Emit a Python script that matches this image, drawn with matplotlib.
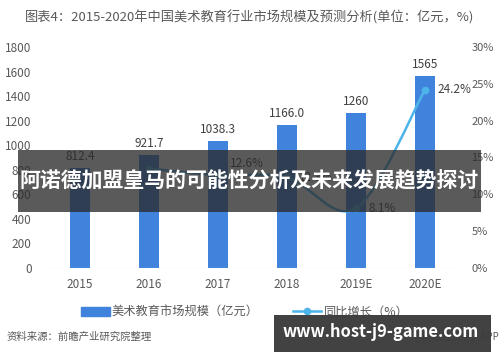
import matplotlib
matplotlib.use("Agg")
import matplotlib.pyplot as plt
from matplotlib.path import Path
from matplotlib.patches import PathPatch, Rectangle
from matplotlib.lines import Line2D
from matplotlib.ticker import PercentFormatter
import numpy as np

plt.rcParams["font.family"] = ["Noto Sans CJK SC", "DejaVu Sans"]

# ── Data ──────────────────────────────────────────────────────────────────────
years      = ["2015", "2016", "2017", "2018", "2019E", "2020E"]
market     = [812.4, 921.7, 1038.3, 1166.0, 1260, 1565]
market_lbl = ["812.4", "921.7", "1038.3", "1166.0", "1260", "1565"]
growth_idx = [1, 2, 3, 4, 5]
growth     = [13.5, 12.6, 12.3, 8.1, 24.2]
growth_lbl = {2: "12.6%", 3: "12.3%", 4: "8.1%", 5: "24.2%"}

BAR_COL  = "#3F83DC"
LINE_COL = "#4DB4EA"
TEXT_COL = "#595959"

fig = plt.figure(figsize=(5, 3.62), dpi=100)
fig.patch.set_facecolor("white")
ax = fig.add_axes([0.091, 0.26, 0.828, 0.61])
ax2 = ax.twinx()

x = np.arange(len(years))
ax.bar(x, market, width=0.29, color=BAR_COL, zorder=2)
for xi, v, s in zip(x, market, market_lbl):
    ax.text(xi, v + 40, s, ha="center", va="bottom", fontsize=8.5, color="#404040")

ax.set_xlim(-0.5, 5.5)
ax.set_ylim(0, 1800)
ax.set_yticks(range(0, 1801, 200))
ax.set_xticks(x)
ax.set_xticklabels(years)
ax2.set_ylim(0, 30)
ax2.set_yticks(range(0, 31, 5))
ax2.yaxis.set_major_formatter(PercentFormatter(decimals=0))

for a in (ax, ax2):
    for sp in a.spines.values():
        sp.set_visible(False)
    a.tick_params(length=0, labelsize=8.5, labelcolor=TEXT_COL)
ax.tick_params(axis="y", pad=10)
ax.tick_params(axis="x", pad=7)
ax2.tick_params(axis="y", pad=8.5, labelsize=8)
ax.axhline(0, color="#D9D9D9", linewidth=0.8, zorder=3)

# smooth growth curve (Catmull-Rom -> cubic Bezier) in data coords
gx = np.array(growth_idx, dtype=float)
gy = np.array(growth, dtype=float)
verts = [(gx[0], gy[0])]
codes = [Path.MOVETO]
for i in range(len(gx) - 1):
    p0 = (gx[i - 1], gy[i - 1]) if i > 0 else (gx[i], gy[i])
    p1 = (gx[i], gy[i])
    p2 = (gx[i + 1], gy[i + 1])
    p3 = (gx[i + 2], gy[i + 2]) if i + 2 < len(gx) else p2
    c1 = (p1[0] + (p2[0] - p0[0]) / 6, p1[1] + (p2[1] - p0[1]) / 6)
    c2 = (p2[0] - (p3[0] - p1[0]) / 6, p2[1] - (p3[1] - p1[1]) / 6)
    verts += [c1, c2, p2]
    codes += [Path.CURVE4] * 3
ax2.add_patch(PathPatch(Path(verts, codes), facecolor="none", edgecolor=LINE_COL,
                        linewidth=1.8, zorder=4))
ax2.plot(gx, gy, "o", color=LINE_COL, markersize=4.5, zorder=5)
for i, g in zip(growth_idx, growth):
    if i in growth_lbl:
        dy = 1.6 if i == 2 else 0.0
        ax2.text(i + 0.18, g + dy, growth_lbl[i], ha="left", va="center",
                 fontsize=8.5, color="#404040", zorder=6)

# title
fig.text(0.5, 0.953, "图表4：2015-2020年中国美术教育行业市场规模及预测分析(单位：亿元，%)",
         ha="center", va="center", fontsize=9.5, color=TEXT_COL)

# legend
handles = [Rectangle((0, 0), 1, 1, color=BAR_COL),
           Line2D([0], [0], color=LINE_COL, marker="o", markersize=4.5, linewidth=1.8)]
fig.legend(handles, ["美术教育市场规模（亿元）", "同比增长（%）"], loc="center",
           bbox_to_anchor=(0.49, 0.138), ncol=2, frameon=False, fontsize=8.8,
           labelcolor=TEXT_COL, handlelength=2.3, handletextpad=0.2, columnspacing=2.8)

# source
fig.text(0.014, 0.069, "资料来源：前瞻产业研究院整理", ha="left", va="center",
         fontsize=7.5, color=TEXT_COL, style="italic")
fig.text(0.998, 0.069, "@前瞻经济学人APP", ha="right", va="center",
         fontsize=7, color=TEXT_COL)

# overlay banners
fig.patches.append(Rectangle((0.036, 0.415), 0.925, 0.17, transform=fig.transFigure,
                             facecolor="#2b2b2b", alpha=0.78, zorder=10))
fig.text(0.498, 0.5, "阿诺德加盟皇马的可能性分析及未来发展趋势探讨", ha="center", va="center",
         fontsize=15, color="white", fontweight="bold", zorder=11)
fig.patches.append(Rectangle((0.548, 0.027), 0.434, 0.103, transform=fig.transFigure,
                             facecolor="#3a3a3a", alpha=0.96, zorder=10))
fig.text(0.762, 0.083, "www.host-j9-game.com", ha="center", va="center",
         fontsize=11.9, color="white", fontweight="bold", zorder=11)

fig.savefig("out.png", dpi=100, facecolor="white")
